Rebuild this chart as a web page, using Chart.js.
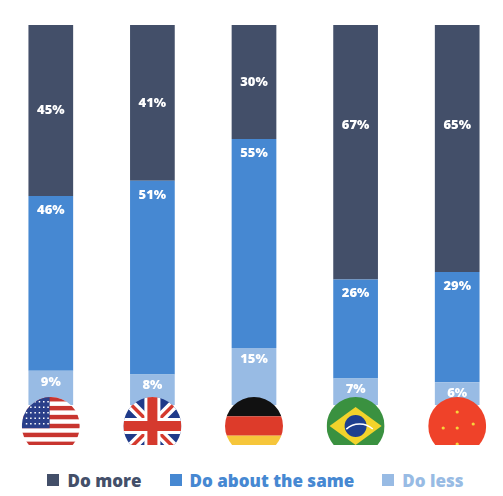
<!DOCTYPE html>
<html><head><meta charset="utf-8">
<script src="https://cdn.jsdelivr.net/npm/chart.js"></script>
<style>
body{margin:0;background:#fff;width:503px;height:496px;overflow:hidden;font-family:"Open Sans",sans-serif}
#wrap{position:absolute;left:0;top:0;width:508px;height:445px}
#leg{position:absolute;top:469px;left:4px;width:503px;display:flex;justify-content:center;gap:28px;font-weight:800;font-size:17px}
#leg span.b{display:inline-block;width:12px;height:12px;margin-right:8px;vertical-align:1px}
</style></head><body>
<div id="wrap"><canvas id="c"></canvas></div>
<div id="leg"></div>
<script>
const countries=["US","UK","Germany","Brazil","China"];
const seriesNames=["Do more","Do about the same","Do less"];
const doMore=[45,41,30,67,65];
const doSame=[46,51,55,26,29];
const doLess=[9,8,15,7,6];
const colors=["#434f69","#4688d2","#98bbe4"];

const leg=document.getElementById('leg');
seriesNames.forEach((n,i)=>{const d=document.createElement('div');d.style.color=colors[i];d.innerHTML='<span class="b" style="background:'+colors[i]+'"></span>'+n;leg.appendChild(d);});

function flag(ctx,name,cx,cy,r){
 ctx.save();ctx.beginPath();ctx.arc(cx,cy,r,0,Math.PI*2);ctx.clip();
 const x=cx-r,y=cy-r,w=2*r,h=2*r;
 if(name==="US"){ctx.fillStyle="#fff";ctx.fillRect(x,y,w,h);ctx.fillStyle="#c8352f";
  for(let i=0;i<13;i+=2)ctx.fillRect(x,y+i*h/13,w,h/13);
  ctx.fillStyle="#2a3f8a";ctx.fillRect(x,y,w*0.48,h*7/13);
  ctx.fillStyle="#fff";for(let i=0;i<5;i++)for(let j=0;j<6;j++){ctx.fillRect(x+4+j*4.3,y+4+i*5.5,1.5,1.5);}
 } else if(name==="UK"){ctx.fillStyle="#1f3a8a";ctx.fillRect(x,y,w,h);
  ctx.strokeStyle="#fff";ctx.lineWidth=10;ctx.beginPath();ctx.moveTo(x,y);ctx.lineTo(x+w,y+h);ctx.moveTo(x+w,y);ctx.lineTo(x,y+h);ctx.stroke();
  ctx.strokeStyle="#d53a2e";ctx.lineWidth=3.5;ctx.stroke();
  ctx.fillStyle="#fff";ctx.fillRect(cx-8,y,16,h);ctx.fillRect(x,cy-8,w,16);
  ctx.fillStyle="#d53a2e";ctx.fillRect(cx-5,y,10,h);ctx.fillRect(x,cy-5,w,10);
 } else if(name==="Germany"){ctx.fillStyle="#111";ctx.fillRect(x,y,w,h/3);ctx.fillStyle="#dd3b2a";ctx.fillRect(x,y+h/3,w,h/3);ctx.fillStyle="#f6c63b";ctx.fillRect(x,y+2*h/3,w,h/3);
 } else if(name==="Brazil"){ctx.fillStyle="#3a9140";ctx.fillRect(x,y,w,h);ctx.fillStyle="#f2d32b";ctx.beginPath();ctx.moveTo(x+3,cy);ctx.lineTo(cx,y+10);ctx.lineTo(x+w-3,cy);ctx.lineTo(cx,y+h-10);ctx.closePath();ctx.fill();
  ctx.fillStyle="#1d3f8f";ctx.beginPath();ctx.arc(cx,cy,11,0,Math.PI*2);ctx.fill();ctx.strokeStyle="#fff";ctx.lineWidth=1.5;ctx.beginPath();ctx.arc(cx+4,cy+18,20,-2.3,-0.85);ctx.stroke();
 } else {ctx.fillStyle="#ef4229";ctx.fillRect(x,y,w,h);ctx.fillStyle="#f7d43b";
  [[-8,-14],[-22,2],[-8,2],[-8,18],[8,-2]].forEach(p=>{ctx.beginPath();ctx.arc(cx+p[0]+8,cy+p[1],1.6,0,Math.PI*2);ctx.fill();});}
 ctx.restore();
}

const plug={id:'p',afterDatasetsDraw(ch){
 const ctx=ch.ctx;ctx.save();ctx.fillStyle="#fff";ctx.font="800 13px 'Open Sans'";ctx.textAlign="center";ctx.textBaseline="middle";
 ch.data.datasets.forEach((ds,di)=>{ch.getDatasetMeta(di).data.forEach((b,i)=>{
   const v=ds.data[i];const top=b.y;let ty;
   if(di===0) ty=top+11; else if(di===1) ty=top+14; else ty=top+Math.min(100,(b.base-top)/2);
   ctx.fillText(v+"%",b.x,ty);});});
 ctx.restore();
 const x=ch.scales.x;countries.forEach((c,i)=>flag(ch.ctx,c,x.getPixelForValue(i),426,29));
}};

new Chart(document.getElementById('c'),{type:'bar',
 data:{labels:countries,datasets:[
  {label:seriesNames[2],data:doLess,backgroundColor:colors[2]},
  {label:seriesNames[1],data:doSame,backgroundColor:colors[1]},
  {label:seriesNames[0],data:doMore,backgroundColor:colors[0]}]},
 options:{responsive:true,maintainAspectRatio:false,animation:false,
  layout:{padding:{top:25,bottom:40,left:0,right:0}},
  datasets:{bar:{barPercentage:0.44,categoryPercentage:1}},
  scales:{x:{stacked:true,display:false},y:{stacked:true,display:false,min:0,max:100}},
  plugins:{legend:{display:false},tooltip:{enabled:false}}},
 plugins:[plug]});
</script></body></html>
